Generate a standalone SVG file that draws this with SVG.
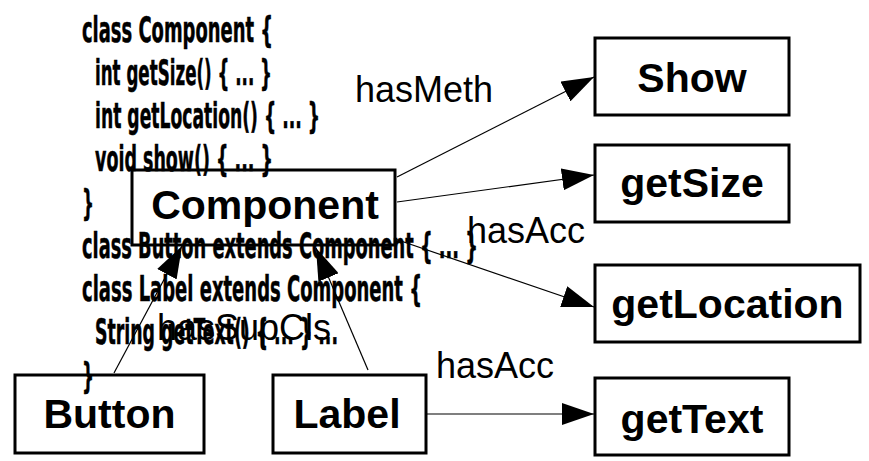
<svg xmlns="http://www.w3.org/2000/svg" width="869" height="461" viewBox="0 0 869 461">
  <style>
    .box { fill: none; stroke: #000; stroke-width: 3; }
    .name { font-family: "Liberation Sans", Arial, sans-serif; font-weight: bold; font-size: 41px; text-anchor: middle; fill: #000; }
    .code { font-family: "DejaVu Sans Condensed", "Liberation Sans Narrow", "Liberation Sans", sans-serif; font-weight: bold; font-size: 35px; fill: #000; stroke: #000; stroke-width: 0.5; }
    .edge { stroke: #000; stroke-width: 1.2; fill: none; marker-end: url(#head); }
    .rel { font-family: "Liberation Sans", Arial, sans-serif; font-size: 36px; fill: #000; }
  </style>
  <defs>
    <marker id="head" markerUnits="userSpaceOnUse" markerWidth="32" markerHeight="22" viewBox="0 0 32 22" refX="32" refY="11" orient="auto">
      <path d="M0,0 L32,11 L0,22 z" fill="#000"/>
    </marker>
  </defs>

  <rect width="869" height="461" fill="#fff"/>

  <!-- Java source listing -->
  <g id="source">
    <text class="code" x="82" y="42" textLength="191" lengthAdjust="spacingAndGlyphs">class Component {</text>
    <text class="code" x="95" y="85" textLength="177" lengthAdjust="spacingAndGlyphs">int getSize() { ... }</text>
    <text class="code" x="95" y="128" textLength="225" lengthAdjust="spacingAndGlyphs">int getLocation() { ... }</text>
    <text class="code" x="95" y="171" textLength="178" lengthAdjust="spacingAndGlyphs">void show() { ... }</text>
    <text class="code" x="82" y="215" textLength="12" lengthAdjust="spacingAndGlyphs">}</text>
    <text class="code" x="82" y="258" textLength="396" lengthAdjust="spacingAndGlyphs">class Button extends Component { ... }</text>
    <text class="code" x="82" y="301" textLength="340" lengthAdjust="spacingAndGlyphs">class Label extends Component {</text>
    <text class="code" x="95" y="344" textLength="243" lengthAdjust="spacingAndGlyphs">String getText() { ... } ...</text>
    <text class="code" x="82" y="388" textLength="12" lengthAdjust="spacingAndGlyphs">}</text>
  </g>

  <!-- class and method nodes -->
  <g id="node-component">
    <rect class="box" x="132" y="170" width="263" height="75"/>
    <text class="name" x="265" y="219">Component</text>
  </g>
  <g id="node-button">
    <rect class="box" x="15" y="375" width="189" height="78"/>
    <text class="name" x="109.5" y="428">Button</text>
  </g>
  <g id="node-label">
    <rect class="box" x="273" y="375" width="153" height="78"/>
    <text class="name" x="347" y="428">Label</text>
  </g>
  <g id="node-show">
    <rect class="box" x="595" y="38" width="194" height="77"/>
    <text class="name" x="692" y="92">Show</text>
  </g>
  <g id="node-getsize">
    <rect class="box" x="595" y="145" width="194" height="77"/>
    <text class="name" x="692" y="197">getSize</text>
  </g>
  <g id="node-getlocation">
    <rect class="box" x="595" y="265" width="265" height="77"/>
    <text class="name" x="727.5" y="318">getLocation</text>
  </g>
  <g id="node-gettext">
    <rect class="box" x="595" y="378" width="194" height="77"/>
    <text class="name" x="692" y="433">getText</text>
  </g>

  <!-- relations -->
  <g id="connectors">
    <line class="edge" x1="397" y1="177" x2="594" y2="77"/>
    <line class="edge" x1="397" y1="202" x2="594" y2="175"/>
    <line class="edge" x1="395" y1="239" x2="594" y2="307"/>
    <line class="edge" x1="114" y1="373" x2="182" y2="246"/>
    <line class="edge" x1="368" y1="370" x2="316" y2="248"/>
    <line class="edge" x1="426" y1="414" x2="594" y2="414"/>
    <text class="rel" x="355" y="102">hasMeth</text>
    <text class="rel" x="467" y="243">hasAcc</text>
    <text class="rel" x="157" y="340">hasSupCls</text>
    <text class="rel" x="436" y="378">hasAcc</text>
  </g>
</svg>
